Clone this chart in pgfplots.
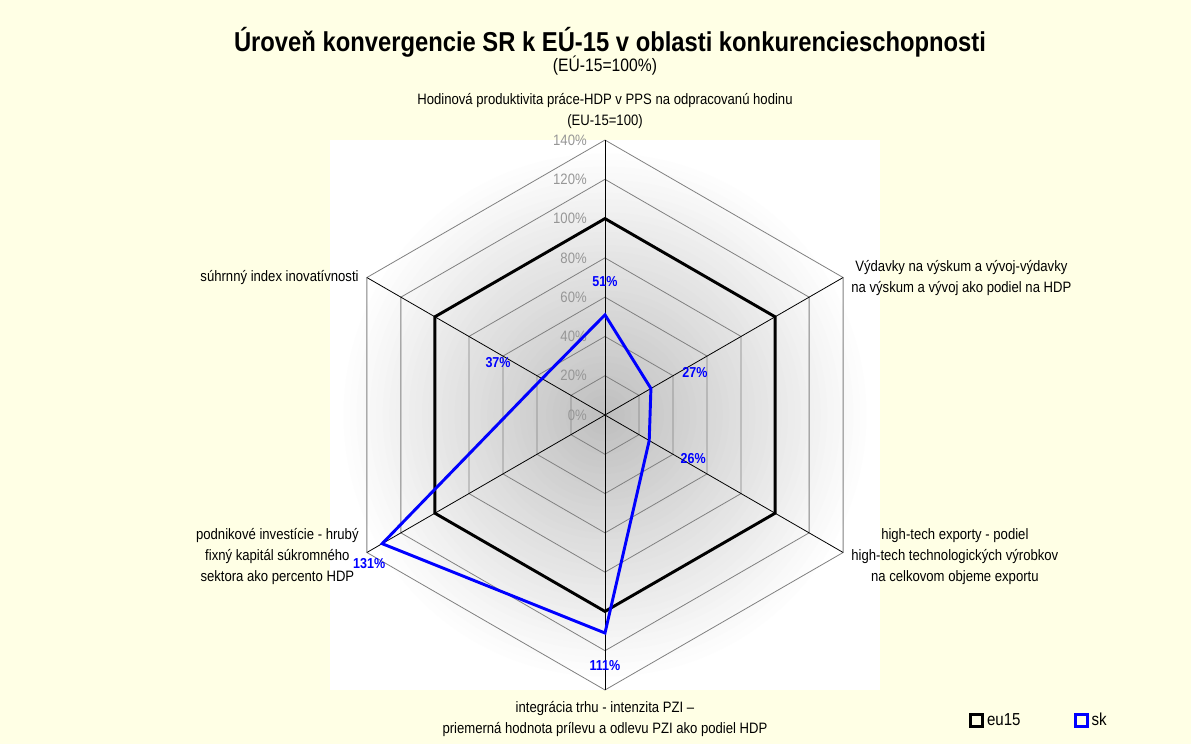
\documentclass[border=0pt]{standalone}
\usepackage{fontspec}
\setmainfont{Liberation Sans}[FakeStretch=0.87]
\usepackage{pgfplots}
\pgfplotsset{compat=1.18}
\usepackage{pgfplotstable}

\definecolor{bgyellow}{RGB}{255,255,229}
\definecolor{gridgrey}{RGB}{128,128,128}
\definecolor{ticktext}{RGB}{150,150,150}
\definecolor{skblue}{RGB}{0,0,255}

% angle of the spoke, value in % of EU-15, label offset (pt)
\pgfplotstableread{
angle value dx dy
90 51 0 24.75
30 27 33 12
-30 26 33 -13.5
-90 111 0 -24.75
-150 131 -9.75 -15
150 37 -33 12
}\sk

\pgfplotstableread{
angle value
90 100
30 100
-30 100
-90 100
-150 100
150 100
}\euref

\newcommand{\lbl}{\fontsize{11.3}{15.75}\selectfont}

\begin{document}
\begin{tikzpicture}
  \fill[bgyellow, use as bounding box] (-453.75pt,-246.75pt) rectangle (439.5pt,311.25pt);
  % plot area background: white with a soft grey glow in the middle
  \fill[white] (-206.2pt,-206.2pt) rectangle (206.2pt,206.2pt);
  \foreach \k in {40,39,...,1}{
    \pgfmathsetmacro\p{50*(1-(\k-1)/40)}
    \fill[gray!\p] (0pt,0pt) circle[radius=\k*4.9pt];
  }

  \node[font=\fontsize{20.5}{22}\selectfont\bfseries] at (3.75pt,279.75pt)
    {Úroveň konvergencie SR k EÚ-15 v oblasti konkurencieschopnosti};
  \node[font=\fontsize{13.5}{15}\selectfont] at (0pt,261.75pt) {(EÚ-15=100\%)};

  \begin{axis}[
    at={(0pt,0pt)}, anchor=center,
    x=1.473pt, y=1.473pt,
    xmin=-140, xmax=140, ymin=-140, ymax=140,
    hide axis, clip=false,
    /pgf/number format/assume math mode=true,
    legend columns=2,
    legend style={draw=none, fill=none, at={(1.155,-0.055)}, anchor=west,
      font=\fontsize{13}{15}\selectfont,
      /tikz/every even column/.append style={column sep=38pt}},
    legend cell align=left,
  ]
    % hexagonal grid
    \pgfplotsinvokeforeach{20,40,...,140}{
      \addplot[gridgrey, line width=0.6pt, data cs=polar, forget plot]
        coordinates {(90,#1) (30,#1) (-30,#1) (-90,#1) (-150,#1) (150,#1)} -- cycle;
    }
    % spokes
    \pgfplotsinvokeforeach{90,30,-30,-90,-150,150}{
      \addplot[black, line width=0.6pt, data cs=polar, forget plot]
        coordinates {(#1,0) (#1,140)};
    }
    % radial tick labels
    \pgfplotsinvokeforeach{0,20,...,140}{
      \node[anchor=east, text=ticktext, font=\lbl, inner sep=0pt, xshift=-13.5pt]
        at (axis cs:0,#1) {#1\%};
    }

    \addplot[black, line width=2.2pt, data cs=polar,
      legend image code/.code={\draw[line width=2.2pt] (0pt,-4.5pt) rectangle (9pt,4.5pt);}]
      table[x=angle, y=value] {\euref} -- cycle;
    \addlegendentry{eu15}

    \addplot[skblue, line width=2.2pt, data cs=polar,
      legend image code/.code={\draw[line width=2.2pt] (0pt,-4.5pt) rectangle (9pt,4.5pt);},
      point meta=explicit,
      visualization depends on={\thisrow{dx} \as \dx},
      visualization depends on={\thisrow{dy} \as \dy},
      nodes near coords={\pgfmathprintnumber{\pgfplotspointmeta}\%},
      every node near coord/.append style={anchor=center, xshift=\dx pt, yshift=\dy pt,
        text=skblue, font=\fontsize{10.8}{12}\selectfont\bfseries}]
      table[x=angle, y=value, meta=value] {\sk} -- cycle;
    \addlegendentry{sk}

    % category labels
    \node[anchor=south, align=center, font=\lbl, inner sep=0pt, yshift=8pt] at (axis cs:0,140)
      {Hodinová produktivita práce-HDP v PPS na odpracovanú hodinu\\(EU-15=100)};
    \node[anchor=west, align=center, font=\lbl, inner sep=0pt, xshift=6pt] at (axis cs:121.24,70)
      {Výdavky na výskum a vývoj-výdavky\\na výskum a vývoj ako podiel na HDP};
    \node[anchor=west, align=center, font=\lbl, inner sep=0pt, xshift=6pt, yshift=-3pt] at (axis cs:121.24,-70)
      {high-tech exporty - podiel\\high-tech technologických výrobkov\\na celkovom objeme exportu};
    \node[anchor=north, align=center, font=\lbl, inner sep=0pt, yshift=-8pt] at (axis cs:0,-140)
      {integrácia trhu - intenzita PZI --\\priemerná hodnota prílevu a odlevu PZI ako podiel HDP};
    \node[anchor=east, align=center, font=\lbl, inner sep=0pt, xshift=-6pt, yshift=-3pt] at (axis cs:-121.24,-70)
      {podnikové investície - hrubý\\fixný kapitál súkromného\\sektora ako percento HDP};
    \node[anchor=east, align=center, font=\lbl, inner sep=0pt, xshift=-6pt] at (axis cs:-121.24,70)
      {súhrnný index inovatívnosti};
  \end{axis}
\end{tikzpicture}
\end{document}
